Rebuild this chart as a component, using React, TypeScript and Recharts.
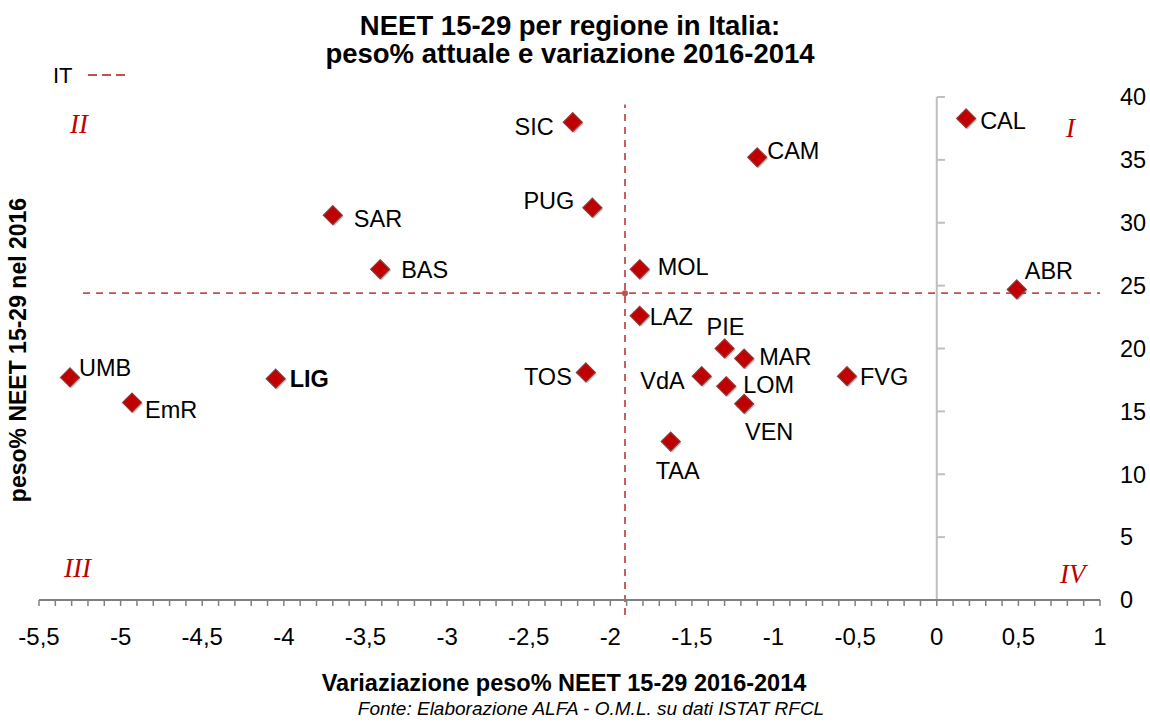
import React from "react";
import { ScatterChart, Scatter, XAxis, YAxis, ReferenceLine } from "recharts";

// regioni e valori
const regions = ["CAL", "CAM", "SIC", "PUG", "SAR", "BAS", "MOL", "ABR", "LAZ", "PIE", "MAR", "UMB", "LIG", "TOS", "VdA", "LOM", "FVG", "VEN", "EmR", "TAA"];
const variazione = [0.18, -1.1, -2.23, -2.11, -3.7, -3.41, -1.82, 0.49, -1.82, -1.3, -1.18, -5.31, -4.05, -2.15, -1.44, -1.29, -0.55, -1.18, -4.93, -1.63];
const peso2016 = [38.3, 35.2, 38.0, 31.2, 30.6, 26.3, 26.3, 24.7, 22.6, 20.0, 19.2, 17.7, 17.6, 18.1, 17.8, 17.0, 17.8, 15.6, 15.7, 12.6];

const itVariazione = -1.91;
const itPeso = 24.4;

const xMajorTicks = [-5.5, -5, -4.5, -4, -3.5, -3, -2.5, -2, -1.5, -1, -0.5, 0, 0.5, 1];
const yTicks = [0, 5, 10, 15, 20, 25, 30, 35, 40];

// posizione delle etichette: [ancoraggio, dx, dy]
const labelPlacement: Record<string, [string, number, number]> = {
  CAL: ["start", 14, 2],
  CAM: ["start", 10, -7],
  SIC: ["end", -19, 4],
  PUG: ["end", -18, -7],
  SAR: ["start", 21, 3],
  BAS: ["start", 21, 0],
  MOL: ["start", 18, -3],
  ABR: ["start", 8, -19],
  LAZ: ["start", 10, 1],
  PIE: ["middle", 1, -22],
  MAR: ["start", 15, -2],
  UMB: ["start", 9, -10],
  LIG: ["start", 14, 0],
  TOS: ["end", -14, 4],
  VdA: ["end", -17, 4],
  LOM: ["start", 17, -2],
  FVG: ["start", 13, 0],
  VEN: ["middle", 25, 28],
  EmR: ["start", 13, 7],
  TAA: ["middle", 7, 29],
};

const points = regions.map((name, i) => ({ name, x: variazione[i], y: peso2016[i] }));
const itPoint = [{ name: "IT", x: itVariazione, y: itPeso }];

// tacche minori ogni 0,1
const xTicks: number[] = [];
xMajorTicks.forEach((t, i) => {
  xTicks.push(t);
  if (i < xMajorTicks.length - 1) {
    for (let k = 1; k < 5; k++) xTicks.push(Math.round(t * 10 + k) / 10);
  }
});

const fmtX = (v: number) => (Math.round(v * 10) % 5 === 0 ? String(v).replace(".", ",") : "");

const RED = "#C00000";
const IT_RED = "#C0504D";

const RegionMarker = (props: any) => {
  const { cx, cy, payload } = props;
  const [anchor, dx, dy] = labelPlacement[payload.name] || ["start", 12, 0];
  const r = 9.5;
  const pts = `${cx},${cy - r} ${cx + r},${cy} ${cx},${cy + r} ${cx - r},${cy}`;
  return (
    <g>
      <polygon points={pts} fill="#000" opacity={0.22} transform="translate(1.5,1.5)" />
      <polygon points={pts} fill={RED} stroke="#8E3B3B" strokeWidth={1.2} />
      <text
        x={cx + dx}
        y={cy + dy}
        dy="0.36em"
        textAnchor={anchor}
        fontSize={23.5}
        fontWeight={payload.name === "LIG" ? "bold" : "normal"}
        fill="#000"
      >
        {payload.name}
      </text>
    </g>
  );
};

const ItMarker = (props: any) => <circle cx={props.cx} cy={props.cy} r={3} fill={IT_RED} />;

const quadStyle: React.CSSProperties = {
  position: "absolute",
  fontFamily: "'Liberation Serif', 'Times New Roman', serif",
  fontStyle: "italic",
  fontSize: 27,
  color: RED,
  lineHeight: "27px",
};

const titleStyle: React.CSSProperties = {
  position: "absolute",
  left: 0,
  width: 1140,
  textAlign: "center",
  fontWeight: "bold",
  fontSize: 27.5,
  lineHeight: "28px",
  color: "#000",
  whiteSpace: "nowrap",
};

export default function App() {
  return (
    <div
      style={{
        position: "absolute",
        left: 0,
        top: 0,
        width: 1150,
        height: 722,
        background: "#fff",
        fontFamily: "'Liberation Sans', Arial, sans-serif",
      }}
    >
      <div style={{ ...titleStyle, top: 12 }}>NEET 15-29 per regione in Italia:</div>
      <div style={{ ...titleStyle, top: 40 }}>peso% attuale e variazione 2016-2014</div>

      <div style={{ position: "absolute", left: 53, top: 64, fontSize: 22, lineHeight: "24px" }}>IT</div>
      <svg style={{ position: "absolute", left: 86, top: 70 }} width={44} height={10}>
        <line x1={2} y1={5} x2={39} y2={5} stroke={IT_RED} strokeWidth={2} strokeDasharray="9 5" />
      </svg>

      <ScatterChart width={1150} height={722} margin={{ top: 97, right: 0, bottom: 82, left: 39 }}>
        <XAxis
          type="number"
          dataKey="x"
          domain={[-5.5, 1]}
          ticks={xTicks}
          interval={0}
          tickFormatter={fmtX}
          height={40}
          stroke="#808080"
          axisLine={{ stroke: "#808080", strokeWidth: 2 }}
          tickLine={{ stroke: "#808080", strokeWidth: 1.5 }}
          tickSize={6}
          tickMargin={22}
          tick={{ fill: "#000", fontSize: 24 }}
        />
        <YAxis
          type="number"
          dataKey="y"
          domain={[0, 40]}
          ticks={yTicks}
          orientation="right"
          width={50}
          axisLine={false}
          tickLine={false}
          tickSize={0}
          tickMargin={20}
          tick={{ fill: "#000", fontSize: 23.5 }}
        />
        <ReferenceLine
          segment={[{ x: 0, y: 0 }, { x: 0, y: 40 }]}
          stroke="#BFBFBF"
          strokeWidth={2}
          ifOverflow="visible"
        />
        {yTicks.slice(1).map((t) => (
          <ReferenceLine
            key={t}
            segment={[{ x: 0, y: t }, { x: 0.05, y: t }]}
            stroke="#BFBFBF"
            strokeWidth={2}
            ifOverflow="visible"
          />
        ))}
        <ReferenceLine
          segment={[{ x: -5.23, y: itPeso }, { x: 1, y: itPeso }]}
          stroke={IT_RED}
          strokeWidth={1.8}
          strokeDasharray="7 6"
          ifOverflow="visible"
        />
        <ReferenceLine
          segment={[{ x: itVariazione, y: -1.2 }, { x: itVariazione, y: 39.4 }]}
          stroke={IT_RED}
          strokeWidth={1.8}
          strokeDasharray="7 6"
          ifOverflow="visible"
        />
        <Scatter data={itPoint} shape={ItMarker} isAnimationActive={false} />
        <Scatter data={points} shape={RegionMarker} isAnimationActive={false} />
      </ScatterChart>

      <div style={{ ...quadStyle, left: 70, top: 111 }}>II</div>
      <div style={{ ...quadStyle, left: 1066, top: 115 }}>I</div>
      <div style={{ ...quadStyle, left: 64, top: 555 }}>III</div>
      <div style={{ ...quadStyle, left: 1060, top: 561 }}>IV</div>

      <div
        style={{
          position: "absolute",
          left: 18,
          top: 350,
          transform: "translate(-50%, -50%) rotate(-90deg)",
          whiteSpace: "nowrap",
          fontWeight: "bold",
          fontSize: 23,
        }}
      >
        peso% NEET 15-29 nel 2016
      </div>

      <div
        style={{
          position: "absolute",
          left: 0,
          width: 1128,
          top: 670,
          textAlign: "center",
          fontWeight: "bold",
          fontSize: 23.5,
          lineHeight: "26px",
        }}
      >
        Variaziazione peso% NEET 15-29 2016-2014
      </div>
      <div
        style={{
          position: "absolute",
          left: 0,
          width: 1182,
          top: 699,
          textAlign: "center",
          fontStyle: "italic",
          fontSize: 19,
          lineHeight: "20px",
        }}
      >
        Fonte: Elaborazione ALFA - O.M.L. su dati ISTAT RFCL
      </div>
    </div>
  );
}
